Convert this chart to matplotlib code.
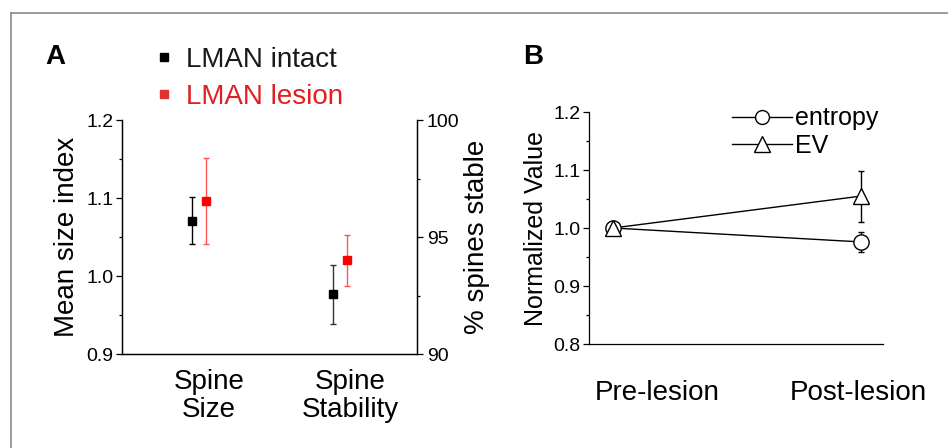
import matplotlib
matplotlib.use('Agg')
import matplotlib.pyplot as plt
from matplotlib.lines import Line2D

plt.rcParams['font.family'] = ['Liberation Sans', 'DejaVu Sans']
plt.rcParams['axes.linewidth'] = 0.9

# Panel A data
groups = ['Spine\nSize', 'Spine\nStability']
size_intact, size_intact_err = 1.071, 0.030
size_lesion, size_lesion_err = 1.096, 0.055
stab_intact, stab_intact_err = 92.55, 1.25
stab_lesion, stab_lesion_err = 94.0, 1.1

# Panel B data
conditions = ['Pre-lesion', 'Post-lesion']
entropy = [1.0, 0.976]
entropy_err = [0.0, 0.017]
ev = [1.0, 1.055]
ev_err = [0.0, 0.044]

fig = plt.figure(figsize=(9.48, 4.48), dpi=100)

# figure frame (top + left only)
fig.add_artist(Line2D([11 / 948, 1], [1 - 13 / 448] * 2, transform=fig.transFigure,
                      color='#8a8a8a', lw=1.2))
fig.add_artist(Line2D([11 / 948] * 2, [0, 1 - 13 / 448], transform=fig.transFigure,
                      color='#8a8a8a', lw=1.2))

# --- Panel A ---
ax = fig.add_axes([0.1287, 0.2098, 0.3112, 0.5223])
ax2 = ax.twinx()
off = 0.05
ax.errorbar([0 - off], [size_intact], yerr=[size_intact_err], fmt='s', color='black',
            ms=6, elinewidth=1, capsize=2, capthick=1)
ax.errorbar([0 + off], [size_lesion], yerr=[size_lesion_err], fmt='s', color='red',
            ecolor='#ff5555', ms=6, elinewidth=1, capsize=2, capthick=1)
ax2.errorbar([1 - off], [stab_intact], yerr=[stab_intact_err], fmt='s', color='black',
             ecolor='#333333', ms=6, elinewidth=1, capsize=2, capthick=1)
ax2.errorbar([1 + off], [stab_lesion], yerr=[stab_lesion_err], fmt='s', color='red',
             ecolor='#ff5555', ms=6, elinewidth=1, capsize=2, capthick=1)

ax.set_xlim(-0.546, 1.546)
ax.set_ylim(0.9, 1.2)
ax2.set_ylim(90, 100)
ax.set_yticks([0.9, 1.0, 1.1, 1.2])
ax.set_yticklabels(['0.9', '1.0', '1.1', '1.2'])
ax.set_yticks([0.95, 1.05, 1.15], minor=True)
ax2.set_yticks([90, 95, 100])
ax2.set_yticks([92.5, 97.5], minor=True)
ax.set_xticks([0.07, 1.07])
ax.set_xticklabels(groups, fontsize=20, linespacing=1.1)
ax.tick_params(axis='x', length=0, pad=11)
ax.tick_params(axis='y', which='major', length=4, width=0.9, labelsize=14, pad=2)
ax.tick_params(axis='y', which='minor', length=2.5, width=0.9)
ax2.tick_params(axis='y', which='major', length=4, width=0.9, labelsize=14, pad=3)
ax2.tick_params(axis='y', which='minor', length=2.5, width=0.9)
for a in (ax, ax2):
    a.spines['top'].set_visible(False)
ax.set_ylabel('Mean size index', fontsize=20, labelpad=5)
ax2.set_ylabel('% spines stable', fontsize=20, labelpad=3)

handles_a = [Line2D([], [], marker='s', ls='none', color='black', ms=6),
             Line2D([], [], marker='s', ls='none', color='#e03030', ms=6)]
ax.legend(handles_a, ['LMAN intact', 'LMAN lesion'], labelcolor=['#1a1a1a', '#e02020'],
          loc='upper left', bbox_to_anchor=(142 / 948, 1 - 33 / 448),
          bbox_transform=fig.transFigure, frameon=False, fontsize=20,
          handlelength=0.6, handletextpad=0.5, labelspacing=0.4, borderpad=0)

fig.text(45 / 948, 1 - 57 / 448, 'A', fontsize=20, fontweight='bold', va='center', ha='left')
fig.text(523 / 948, 1 - 57 / 448, 'B', fontsize=20, fontweight='bold', va='center', ha='left')

# --- Panel B ---
bx = fig.add_axes([0.6213, 0.2321, 0.3101, 0.5179])
xs = [0, 1]
bx.errorbar(xs, entropy, yerr=entropy_err, color='black', lw=1, elinewidth=1,
            capsize=2.5, capthick=1, zorder=2)
bx.errorbar(xs, ev, yerr=ev_err, color='black', lw=1, elinewidth=1,
            capsize=2.5, capthick=1, zorder=2)
bx.plot(xs, entropy, ls='none', marker='o', ms=11, mfc='white', mec='black', mew=1, zorder=3)
bx.plot(xs, ev, ls='none', marker='^', ms=12, mfc='white', mec='black', mew=1, zorder=4)

bx.set_xlim(-0.097, 1.089)
bx.set_ylim(0.8, 1.2)
bx.set_yticks([0.8, 0.9, 1.0, 1.1, 1.2])
bx.set_yticklabels(['0.8', '0.9', '1.0', '1.1', '1.2'])
bx.set_yticks([0.85, 0.95, 1.05, 1.15], minor=True)
bx.set_xticks([0.177, 0.99])
bx.set_xticklabels(conditions, fontsize=20)
bx.tick_params(axis='x', length=0, pad=26)
bx.tick_params(axis='y', which='major', length=4, width=0.9, labelsize=14, pad=2)
bx.tick_params(axis='y', which='minor', length=2.5, width=0.9)
bx.spines['top'].set_visible(False)
bx.spines['right'].set_visible(False)
bx.set_ylabel('Normalized Value', fontsize=18, labelpad=4)

handles_b = [Line2D([], [], color='black', lw=1, marker='o', ms=10, mfc='white', mec='black'),
             Line2D([], [], color='black', lw=1, marker='^', ms=11, mfc='white', mec='black')]
bx.legend(handles_b, ['entropy', 'EV'], loc='upper left',
          bbox_to_anchor=(719 / 948, 1 - 94 / 448), bbox_transform=fig.transFigure,
          frameon=False, fontsize=18, numpoints=1, handlelength=2.4,
          handletextpad=0.15, labelspacing=0.15, borderpad=0)

fig.savefig('out.png', dpi=100)
